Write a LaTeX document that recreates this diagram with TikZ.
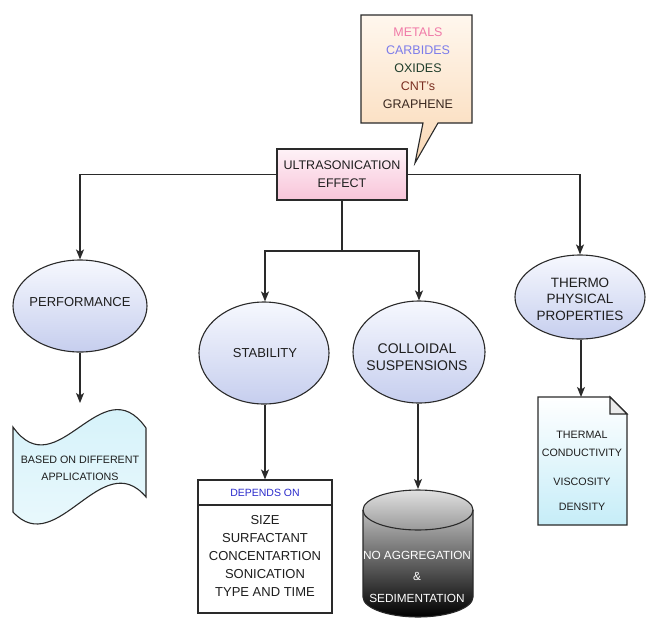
\documentclass[tikz,border=0pt]{standalone}
\usepackage{fontspec}
\setmainfont{Liberation Sans}
\usetikzlibrary{shapes.geometric,arrows.meta}
\definecolor{lc}{HTML}{2A2A2A}
\definecolor{tc}{HTML}{1E1E1E}
\definecolor{elt}{HTML}{F6F8FE}
\definecolor{elb}{HTML}{C6CEEE}
\definecolor{pinkb}{HTML}{F8C4D9}
\definecolor{pinkt}{HTML}{FEF2F7}
\definecolor{calt}{HTML}{FFF7EE}
\definecolor{calb}{HTML}{FAD9B6}
\definecolor{cmetal}{HTML}{F07AA8}
\definecolor{ccarb}{HTML}{7C7CEA}
\definecolor{coxid}{HTML}{1F3D2B}
\definecolor{ccnt}{HTML}{7A2E20}
\definecolor{cgraph}{HTML}{3A2820}
\definecolor{tapet}{HTML}{CFF0F9}
\definecolor{tapeb}{HTML}{EEFAFD}
\definecolor{doct}{HTML}{FFFFFF}
\definecolor{docb}{HTML}{C6EDF8}
\definecolor{depblue}{HTML}{2B2BCC}
\tikzset{
  conn/.style={draw=lc, line width=1.3pt},
  arr/.style={conn, -{Stealth[length=10pt,width=8pt,inset=2.5pt]}},
  border/.style={draw=lc, line width=1.1pt},
  ell/.style={ellipse, border, top color=elt, bottom color=elb, inner sep=0pt},
  lbl/.style={text=tc, align=center, inner sep=0pt},
}
\begin{document}
\begin{tikzpicture}[x=1pt,y=-1pt]
\useasboundingbox[fill=white] (0,0) rectangle (646,622);

% callout
\path[border, top color=calt, bottom color=calb]
  (361,15) -- (472,15) -- (472,123) -- (438,123) -- (415,163) -- (423,123) -- (361,123) -- cycle;
\node[lbl, font=\fontsize{12.5}{18}\selectfont] (mat) at (418,68)
  {\textcolor{cmetal}{METALS}\\\textcolor{ccarb}{CARBIDES}\\\textcolor{coxid}{OXIDES}\\\textcolor{ccnt}{CNT's}\\\textcolor{cgraph}{GRAPHENE}};

% central box
\node[rectangle, border, top color=pinkt, bottom color=pinkb, minimum width=130pt, minimum height=51pt,
      lbl, font=\fontsize{12.5}{18}\selectfont] (ultra) at (342,174.5) {ULTRASONICATION\\EFFECT};

% ellipses
\node[ell, minimum width=134pt, minimum height=92pt] (perf) at (80,306) {};
\node[lbl, font=\fontsize{13}{17}\selectfont] (perft) at (80,302) {PERFORMANCE};
\node[ell, minimum width=130pt, minimum height=102pt] (stab) at (264,353) {};
\node[lbl, font=\fontsize{13}{17}\selectfont] (stabt) at (265,353) {STABILITY};
\node[ell, minimum width=132pt, minimum height=102pt] (coll) at (419,352) {};
\node[lbl, font=\fontsize{14}{17}\selectfont] (collt) at (417,357) {COLLOIDAL\\SUSPENSIONS};
\node[ell, minimum width=130pt, minimum height=84pt] (therm) at (580,297) {};
\node[lbl, font=\fontsize{13.5}{16.5}\selectfont] (thermt) at (580,299) {THERMO\\PHYSICAL\\PROPERTIES};

% tape (left)
\path[border, top color=tapet, bottom color=tapeb]
  (13,427) .. controls (57,489) and (102,365) .. (146,428) -- (146,497)
  .. controls (102,445) and (57,560) .. (13,512) -- cycle;
\node[lbl, font=\fontsize{10.7}{17}\selectfont] (tape) at (80,468) {BASED ON DIFFERENT\\APPLICATIONS};
\coordinate (tapetop) at (80,403);

% depends box
\node[rectangle, border, fill=white, minimum width=134pt, minimum height=25pt, inner sep=0pt] (deph) at (265,492.5) {};
\node[lbl, text=depblue, font=\fontsize{10.5}{12}\selectfont] (dephl) at (265,493) {DEPENDS ON};
\node[rectangle, border, fill=white, minimum width=134pt, minimum height=108pt, inner sep=0pt] (depb) at (265,559) {};
\node[lbl, font=\fontsize{13}{17.8}\selectfont] (depbl) at (265,556) {SIZE\\SURFACTANT\\CONCENTARTION\\SONICATION\\TYPE AND TIME};

% cylinder
\path[border, top color=black!12, bottom color=black]
  (363,510) -- (363,597) arc[start angle=180, end angle=0, x radius=55, y radius=20]
  -- (473,510) arc[start angle=0, end angle=-180, x radius=55, y radius=20] -- cycle;
\draw[border] (363,510) arc[start angle=180, end angle=0, x radius=55, y radius=20];
\node[lbl, text=white, font=\fontsize{11.8}{21.5}\selectfont] (cyl) at (417,576.5) {NO AGGREGATION\\\&\\SEDIMENTATION};
\coordinate (cyltop) at (418,489);

% document (right)
\path[border, top color=doct, bottom color=docb]
  (538,397) -- (610,397) -- (627,414) -- (627,525) -- (538,525) -- cycle;
\path[border, fill=black!8] (610,397) -- (610,414) -- (627,414) -- cycle;
\node[lbl, font=\fontsize{10.7}{18}\selectfont] (doc) at (582,471) {THERMAL\\CONDUCTIVITY\\[11pt]VISCOSITY\\[7pt]DENSITY};
\coordinate (doctop) at (581,397);

% connectors
\coordinate (hub) at (342,251);
\draw[arr] (ultra.west) -| (perf.north);
\draw[arr] (ultra.east) -| (therm.north);
\draw[conn] (ultra.south) -- (hub);
\draw[arr] (hub) -| (stab.north -| deph.north);
\draw[arr] (hub) -| (coll.north);
\draw[arr] (perf.south) -- (tapetop);
\draw[arr] (stab.south -| deph.north) -- (deph.north);
\draw[arr] (coll.south -| cyltop) -- (cyltop);
\draw[arr] (therm.south -| doctop) -- (doctop);
\end{tikzpicture}
\end{document}
